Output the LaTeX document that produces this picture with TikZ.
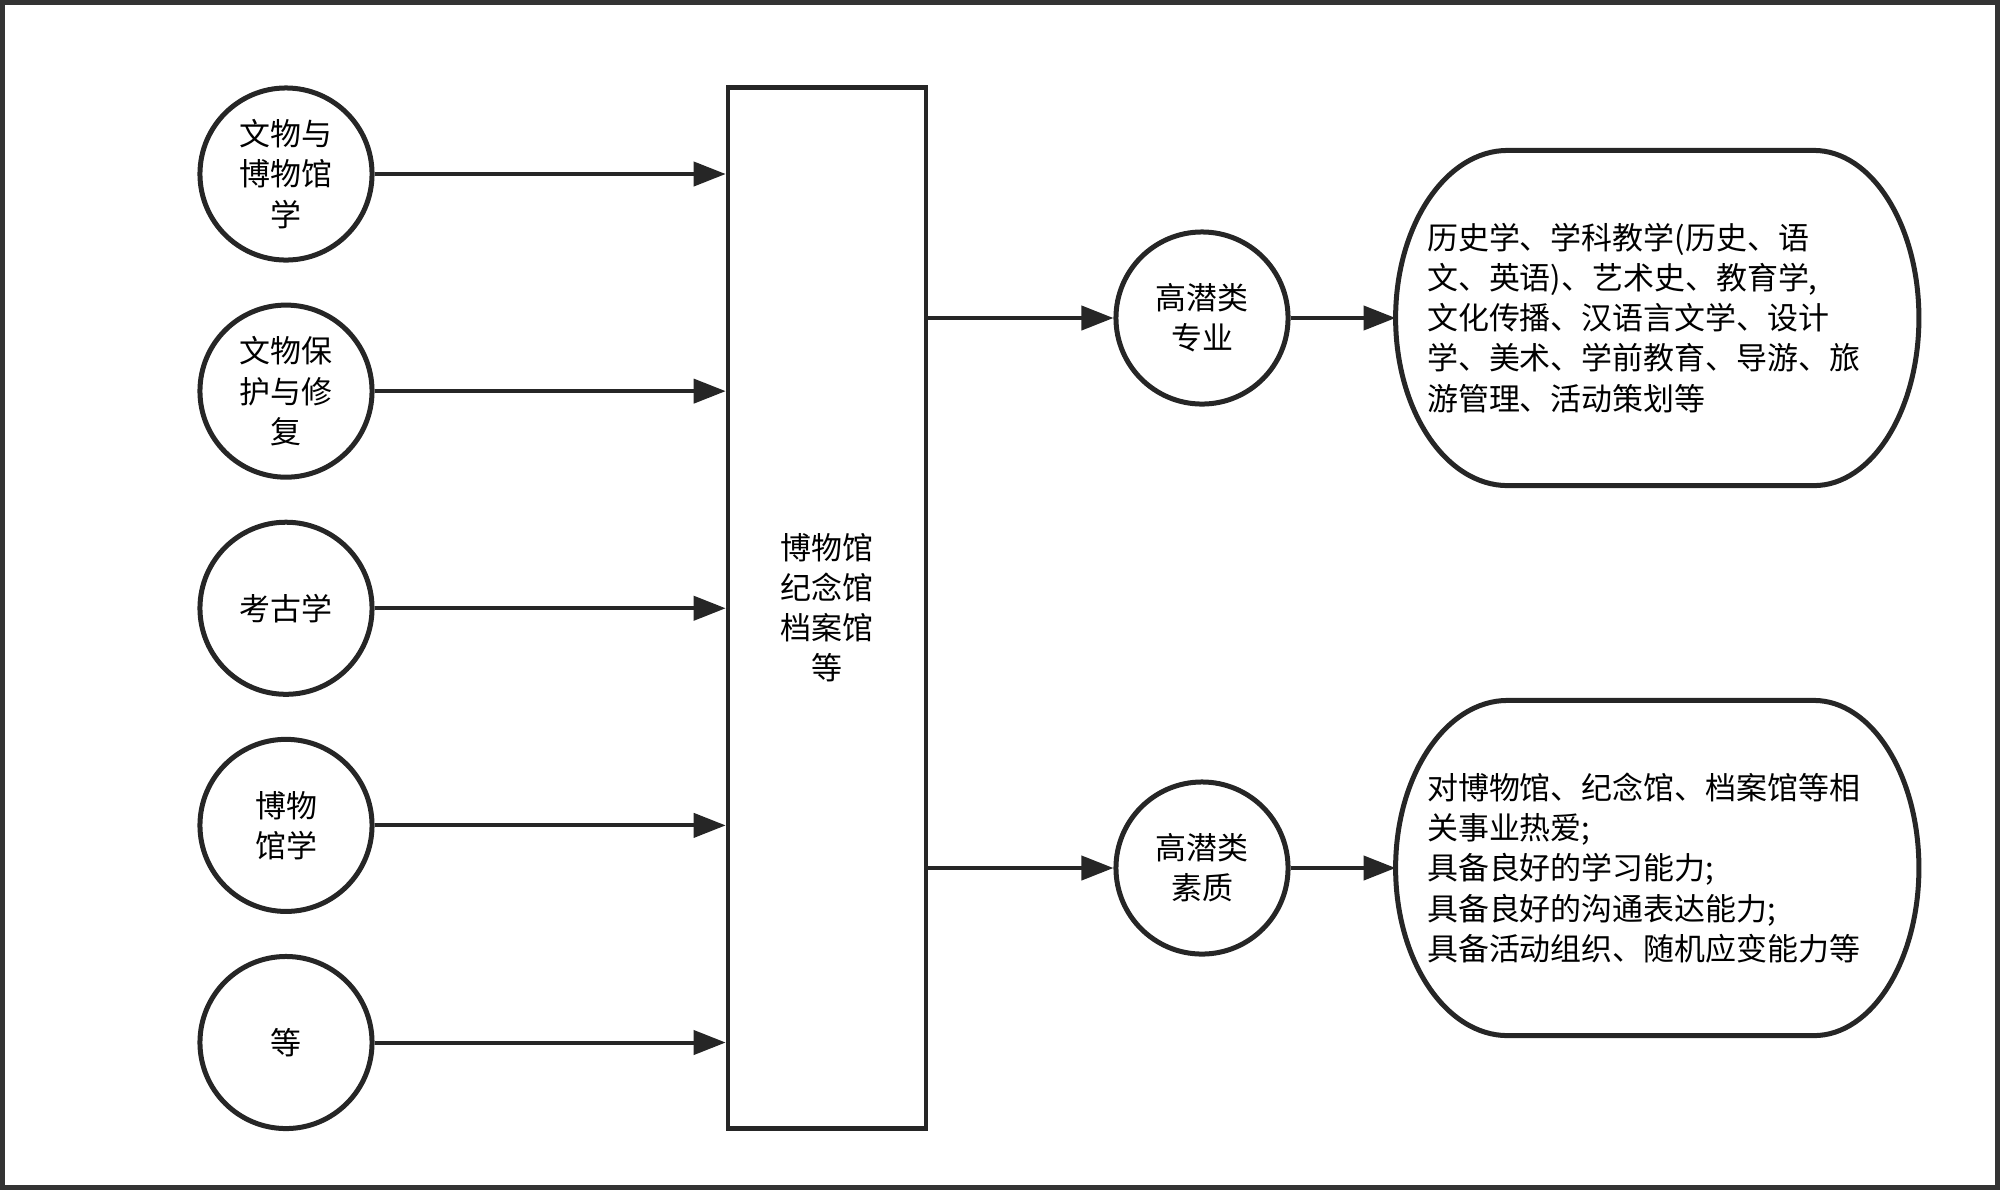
\documentclass[tikz,border=0pt]{standalone}
\usepackage{fontspec}
\newfontfamily\cjk{Noto Sans CJK SC}
\usetikzlibrary{positioning, arrows.meta}

\begin{document}
\begin{tikzpicture}[x=0.01cm, y=-0.01cm, node distance=2.17cm, on grid,
    every node/.style={font=\cjk\fontsize{8.8pt}{11.4pt}\selectfont},
    subject/.style={circle, draw=black!85, line width=0.5mm, minimum size=1.72cm, inner sep=0pt, align=center},
    venue/.style={rectangle, draw=black!85, line width=0.45mm, minimum width=1.98cm, minimum height=10.4cm, align=center},
    detail/.style={rectangle, outer sep=0pt, minimum width=5.23cm, minimum height=3.35cm, text width=4.6cm, align=left},
    barrel/.style={line width=0.5mm, line join=round, draw=black!85},
    link/.style={-{Triangle[length=3.2mm,width=2.4mm]}, line width=0.4mm, draw=black!85}]
    \useasboundingbox (0,0) rectangle (2000,1190);
    \draw[line width=0.5mm, draw=black!80] (2.5,2.5) rectangle (1997.5,1187.5);

    \node[subject] (c1) at (286,174) {文物与\\博物馆\\学};
    \node[subject] (c2) [below=of c1] {文物保\\护与修\\复};
    \node[subject] (c3) [below=of c2] {考古学};
    \node[subject] (c4) [below=of c3] {博物\\馆学};
    \node[subject] (c5) [below=of c4] {等};

    \node[venue] (venue) at (827,608) {博物馆\\纪念馆\\档案馆\\等};

    \node[subject] (major) at (1202,318) {高潜类\\专业};
    \node[subject] (quality) at (1202,868) {高潜类\\素质};

    \node[detail] (majorlist) [right=4.55cm of major] {历史学、学科教学(历史、语\\文、英语)、艺术史、教育学,\\文化传播、汉语言文学、设计\\学、美术、学前教育、导游、旅\\游管理、活动策划等};
    \node[detail] (qualitylist) [right=4.55cm of quality] {对博物馆、纪念馆、档案馆等相\\关事业热爱;\\具备良好的学习能力;\\具备良好的沟通表达能力;\\具备活动组织、随机应变能力等};

    \foreach \d in {majorlist,qualitylist}
      \draw[barrel] ([xshift=1.12cm]\d.north west) -- ([xshift=-1.05cm]\d.north east)
        arc[start angle=90, end angle=-90, x radius=1.05cm, y radius=1.675cm]
        -- ([xshift=1.12cm]\d.south west)
        arc[start angle=270, end angle=90, x radius=1.12cm, y radius=1.675cm] -- cycle;

    \foreach \c in {c1,c2,c3,c4,c5}
      \draw[link] (\c) -- (\c -| venue.west);
    \draw[link] (venue.east |- major) -- (major);
    \draw[link] (major) -- (majorlist.west);
    \draw[link] (venue.east |- quality) -- (quality);
    \draw[link] (quality) -- (qualitylist.west);
\end{tikzpicture}
\end{document}
